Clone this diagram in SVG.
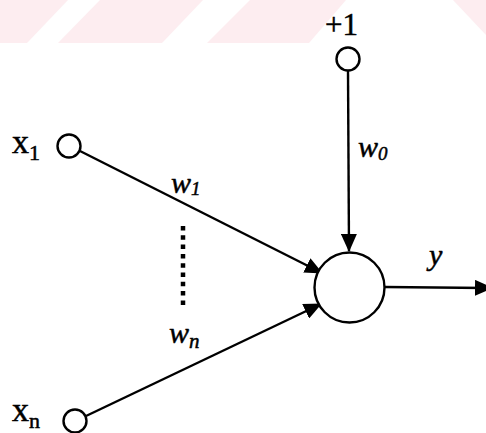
<svg xmlns="http://www.w3.org/2000/svg" width="486" height="433" viewBox="0 0 486 433">
<style>
.bg{fill:#fdedf0}
.node{fill:#fff;stroke:#000;stroke-width:2.4}
.edge{stroke:#000;stroke-width:2.4;fill:none}
.t{font-family:"Liberation Serif","Times New Roman",serif;fill:#000;stroke:#000;stroke-width:0.5}
.it{font-style:italic}
</style>
<defs>
<marker id="arr" markerUnits="userSpaceOnUse" markerWidth="18" markerHeight="16" viewBox="0 0 18 16" refX="17" refY="8" orient="auto">
<path d="M0,0 L18,8 L0,16 Z" fill="#000"/>
</marker>
</defs>
<rect width="486" height="433" fill="#fff"/>
<g id="watermark">
<polygon class="bg" points="0,0 68,0 27,43 0,43"/>
<polygon class="bg" points="100,0 203,0 162,43 58,43"/>
<polygon class="bg" points="250,0 346,0 309,43 207,43"/>
<polygon class="bg" points="453,0 486,0 486,35"/>
</g>
<g id="connectors">
<line class="edge" x1="80" y1="151" x2="322" y2="273" marker-end="url(#arr)"/>
<line class="edge" x1="86" y1="416" x2="321" y2="304" marker-end="url(#arr)"/>
<line class="edge" x1="348" y1="71" x2="349" y2="251" marker-end="url(#arr)"/>
<line class="edge" x1="385" y1="287" x2="492" y2="288" marker-end="url(#arr)"/>
<line x1="183" y1="226" x2="183" y2="305" stroke="#000" stroke-width="4.5" stroke-dasharray="4.5 4.8"/>
</g>
<g id="bias">
<circle class="node" cx="348" cy="59" r="11.5"/>
<text class="t" x="325" y="35" font-size="31">+1</text>
</g>
<g id="x1">
<circle class="node" cx="69" cy="146" r="11.5"/>
<text class="t" x="12" y="153" font-size="34">x<tspan font-size="22" dy="7">1</tspan></text>
</g>
<g id="xn">
<circle class="node" cx="75" cy="421" r="11.5"/>
<text class="t" x="12" y="421" font-size="34">x<tspan font-size="22" dy="7">n</tspan></text>
</g>
<g id="neuron">
<circle class="node" cx="349.5" cy="287.5" r="35"/>
</g>
<g id="labels">
<text class="t it" x="171" y="193" font-size="30">w<tspan font-size="19" dy="2">1</tspan></text>
<text class="t it" x="169" y="343" font-size="30">w<tspan font-size="21" dy="5">n</tspan></text>
<text class="t it" x="358" y="157" font-size="30">w<tspan font-size="19" dy="3">0</tspan></text>
<text class="t it" x="429" y="265" font-size="30">y</text>
</g>
</svg>
